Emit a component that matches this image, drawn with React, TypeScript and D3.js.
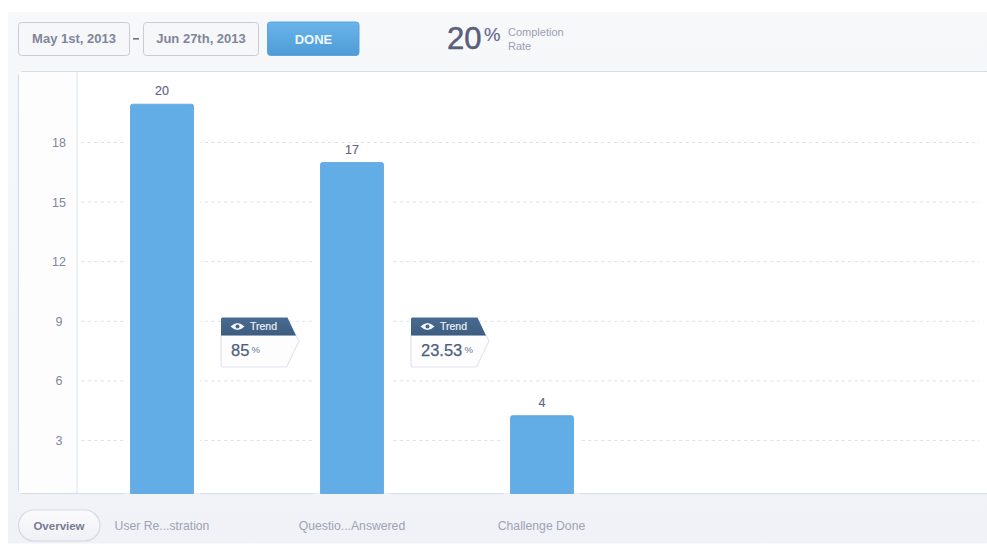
import React from "react";
import * as d3 from "d3";

const categories = ["User Registration", "Questions Answered", "Challenge Done"];
const categoryLabels = ["User Re...stration", "Questio...Answered", "Challenge Done"];
const counts = [20, 17, 4];
const axisTicks = [3, 6, 9, 12, 15, 18];
const trendValues = ["85", "23.53"];
const dateRange = ["May 1st, 2013", "Jun 27th, 2013"];
const completionRate = "20";

const W = 987;
const H = 544;
const FONT = "'Liberation Sans', Arial, sans-serif";
const BASE = 493.5;

// Bars sit on the card's bottom edge; the grid has its own slightly wider spacing.
const x = d3.scaleBand<string>().domain(categories).range([130, 574]).paddingInner(126 / 190);
const barY = d3.scaleLinear().domain([0, 20]).range([BASE, 104.2]);
const gridY = d3.scaleLinear().domain([3, 18]).range([440.5, 142.5]);

const roundedTop = (x0: number, y0: number, w: number, bottom: number, r: number) => {
  const p = d3.path();
  p.moveTo(x0, bottom);
  p.lineTo(x0, y0 + r);
  p.quadraticCurveTo(x0, y0, x0 + r, y0);
  p.lineTo(x0 + w - r, y0);
  p.quadraticCurveTo(x0 + w, y0, x0 + w, y0 + r);
  p.lineTo(x0 + w, bottom);
  p.closePath();
  return p.toString();
};

function Button({ bx, w, label }: { bx: number; w: number; label: string }) {
  return (
    <g>
      <rect x={bx + 0.5} y={22.5} width={w} height={33} rx={3} fill="#f6f7f9" stroke="#c9ccd6" />
      <text x={bx + w / 2 + 0.5} y={43} textAnchor="middle" fontSize={13} fontWeight={700} fill="#80859a">
        {label}
      </text>
    </g>
  );
}

function TrendTag({ tx, value }: { tx: number; value: string }) {
  const body = `M${tx + 0.5},335 L${tx + 75.5},335 L${tx + 78.5},341 L${tx + 66.5},366 Q${tx + 66},367 ${tx + 65},367 L${tx + 2.5},367 Q${tx + 0.5},367 ${tx + 0.5},365 Z`;
  const head = `M${tx + 0.5},319 Q${tx + 0.5},317.5 ${tx + 2},317.5 L${tx + 67},317.5 L${tx + 75.5},335.5 L${tx + 0.5},335.5 Z`;
  const valueWidth = value.length * 9.2 + (value.includes(".") ? -4.6 : 0);
  return (
    <g>
      <path d={body} fill="#fdfdfe" stroke="#e2e4ee" strokeWidth={1.2} />
      <path d={head} fill="url(#trendHead)" />
      <path
        d={`M${tx + 10},326.5 Q${tx + 17},319.5 ${tx + 24},326.5 Q${tx + 17},333.5 ${tx + 10},326.5 Z`}
        fill="#f4f6f9"
      />
      <circle cx={tx + 17} cy={326.5} r={2} fill="#44648a" />
      <text x={tx + 29.5} y={330} fontSize={10.5} fill="#edf0f5" stroke="#edf0f5" strokeWidth={0.2}>Trend</text>
      <text x={tx + 10.5} y={356} fontSize={16.5} fill="#4c5f80" stroke="#4c5f80" strokeWidth={0.25}>{value}</text>
      <text x={tx + 10.5 + valueWidth + 2} y={352.5} fontSize={9.5} fill="#66758f">%</text>
    </g>
  );
}

export default function App() {
  return (
    <svg
      width={W}
      height={H}
      viewBox={`0 0 ${W} ${H}`}
      style={{ position: "fixed", left: 0, top: 0, display: "block", background: "#fff" }}
      fontFamily={FONT}
    >
      <defs>
        <linearGradient id="panelBg" x1="0" y1="0" x2="0" y2="1">
          <stop offset="0" stopColor="#f7f8fa" />
          <stop offset="1" stopColor="#f0f2f7" />
        </linearGradient>
        <linearGradient id="doneBg" x1="0" y1="0" x2="0" y2="1">
          <stop offset="0" stopColor="#69b4ea" />
          <stop offset="1" stopColor="#4f9bd6" />
        </linearGradient>
        <linearGradient id="trendHead" x1="0" y1="0" x2="0" y2="1">
          <stop offset="0" stopColor="#4a6b91" />
          <stop offset="1" stopColor="#3c5c80" />
        </linearGradient>
        <linearGradient id="pillBg" x1="0" y1="0" x2="0" y2="1">
          <stop offset="0" stopColor="#fbfbfd" />
          <stop offset="1" stopColor="#eff0f5" />
        </linearGradient>
      </defs>

      <rect x={8} y={12} width={W - 8} height={531.5} fill="url(#panelBg)" />

      {/* Toolbar */}
      <Button bx={18} w={111} label={dateRange[0]} />
      <rect x={133} y={38} width={6} height={1.6} fill="#6f748a" />
      <Button bx={143} w={115} label={dateRange[1]} />
      <rect x={267.5} y={22} width={91.5} height={33.5} rx={3} fill="url(#doneBg)" stroke="#5ba3dc" />
      <text x={313.5} y={44} textAnchor="middle" fontSize={13} fontWeight={700} fill="#eef6fc">DONE</text>

      <text x={447} y={49} fontSize={31} fill="#575e7e" stroke="#575e7e" strokeWidth={0.5}>{completionRate}</text>
      <text x={484} y={41} fontSize={18.5} fill="#63698a" stroke="#63698a" strokeWidth={0.2}>%</text>
      <text x={508} y={35.5} fontSize={11} fill="#9a9fb3">Completion</text>
      <text x={508} y={49.5} fontSize={11} fill="#9a9fb3">Rate</text>

      {/* Chart card */}
      <path
        d={`M${W},71.5 L24,71.5 Q18.5,71.5 18.5,77 L18.5,488 Q18.5,493.5 24,493.5 L${W},493.5`}
        fill="#fff"
        stroke="#d3dde7"
        strokeWidth={1.2}
      />
      <rect x={19} y={72} width={58} height={421} fill="#fdfdfe" />
      <line x1={77} x2={77} y1={72} y2={493} stroke="#dbe4ec" />

      {/* Grid and axis labels */}
      {axisTicks.map((t) => (
        <g key={t}>
          <line
            x1={81}
            x2={979}
            y1={gridY(t)}
            y2={gridY(t)}
            stroke="#dbe5ee"
            strokeDasharray="3.5 3"
          />
          <text x={59} y={gridY(t) + 4.5} textAnchor="middle" fontSize={12.5} fill="#82869b">
            {t}
          </text>
        </g>
      ))}

      {/* Bars, each with a white clearance that interrupts the grid */}
      {categories.map((c, i) => {
        const bx = x(c)!;
        const bw = x.bandwidth();
        const top = barY(counts[i]);
        return (
          <g key={c}>
            <rect x={bx - 6} y={top - 14} width={bw + 12} height={BASE - top + 14} fill="#fff" />
            <path d={roundedTop(bx + 0.5, top, bw - 1, BASE, 2)} fill="#62ade6" stroke="#5aa3dc" strokeWidth={0.8} />
            <text
              x={bx + bw / 2}
              y={top - 9}
              textAnchor="middle"
              fontSize={12.5}
              fill="#5f6482"
              stroke="#5f6482"
              strokeWidth={0.15}
            >
              {counts[i]}
            </text>
          </g>
        );
      })}

      {/* Conversion tags between neighbouring bars */}
      {trendValues.map((v, i) => (
        <TrendTag key={v} tx={x(categories[i])! + 90.5} value={v} />
      ))}

      {/* Tabs */}
      <rect x={18.5} y={510} width={81.5} height={31} rx={15.5} fill="url(#pillBg)" stroke="#d5d8e3" strokeWidth={1.2} />
      <text x={59} y={529.5} textAnchor="middle" fontSize={11.5} fontWeight={700} fill="#777c92">Overview</text>
      {categories.map((c, i) => (
        <text
          key={c}
          x={x(c)! + x.bandwidth() / 2 - (i === 2 ? 0.5 : 0)}
          y={529.5}
          textAnchor="middle"
          fontSize={12.2}
          fill="#9da2b6"
        >
          {categoryLabels[i]}
        </text>
      ))}
    </svg>
  );
}
